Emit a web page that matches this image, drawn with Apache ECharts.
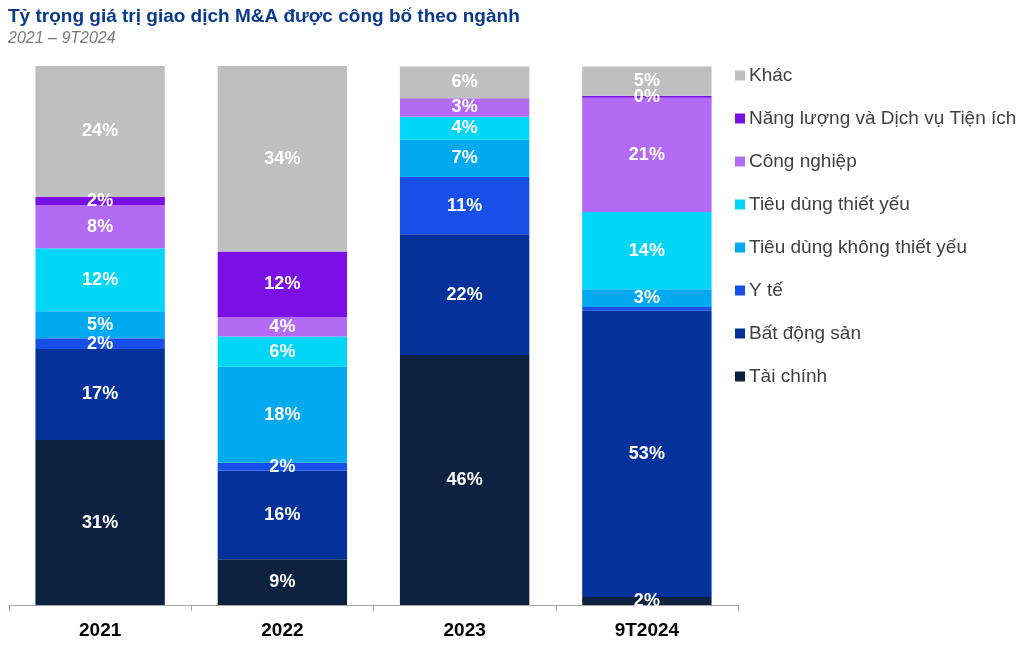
<!DOCTYPE html>
<html>
<head>
<meta charset="utf-8">
<script src="https://cdn.jsdelivr.net/npm/echarts@6/dist/echarts.min.js"></script>
<style>
html,body{margin:0;padding:0;background:#fff;}
#c{width:1024px;height:649px;}
</style>
</head>
<body>
<div id="c"></div>
<script>
const categories = ['2021', '2022', '2023', '9T2024'];
const seriesNames = ['Tài chính', 'Bất động sản', 'Y tế', 'Tiêu dùng không thiết yếu', 'Tiêu dùng thiết yếu', 'Công nghiệp', 'Năng lượng và Dịch vụ Tiện ích', 'Khác'];
const taiChinh   = [30.6, 8.5, 46.4, 1.5];
const batDongSan = [16.9, 16.4, 22.4, 53.1];
const yTe        = [2.0, 1.5, 10.6, 0.7];
const tdKhongTY  = [5.0, 17.8, 6.9, 3.3];
const tdThietYeu = [11.7, 5.6, 4.3, 14.3];
const congNghiep = [8.0, 3.6, 3.4, 21.2];
const nangLuong  = [1.5, 12.2, 0, 0.4];
const khac       = [24.3, 34.4, 5.9, 5.4];
const values = [taiChinh, batDongSan, yTe, tdKhongTY, tdThietYeu, congNghiep, nangLuong, khac];
const colors = ['#0d2240', '#05329a', '#1650e8', '#00a9f0', '#00d7f7', '#b36bf5', '#7a0fe6', '#bfbfbf'];
// labels not shown in the reference: [series index, category index]
const hiddenLabels = [[2, 3], [6, 2]];

const FONT = 'Liberation Sans, Arial, sans-serif';
const chart = echarts.init(document.getElementById('c'), null, {renderer: 'canvas'});
const series = seriesNames.map((name, si) => ({
  name: name,
  type: 'bar',
  stack: 'total',
  barCategoryGap: '29%',
  itemStyle: {color: colors[si]},
  label: {
    show: true,
    position: 'inside',
    color: '#fff',
    fontFamily: FONT,
    fontWeight: 'bold',
    fontSize: 18,
    formatter: p => {
      if (hiddenLabels.some(h => h[0] === si && h[1] === p.dataIndex)) return '';
      return Math.round(p.value) + '%';
    }
  },
  data: values[si]
}));

chart.setOption({
  animation: false,
  title: [{
    text: 'Tỷ trọng giá trị giao dịch M&A được công bố theo ngành',
    left: 3, top: 2,
    textStyle: {color: '#0a3a8c', fontFamily: FONT, fontWeight: 'bold', fontSize: 19}
  }, {
    text: '2021 – 9T2024',
    left: 3, top: 26,
    textStyle: {color: '#7a7a7a', fontFamily: FONT, fontStyle: 'italic', fontWeight: 'normal', fontSize: 16}
  }],
  legend: {
    orient: 'vertical',
    left: 730, top: 61,
    itemWidth: 10, itemHeight: 10,
    itemGap: 24,
    icon: 'rect',
    data: seriesNames.slice().reverse(),
    textStyle: {color: '#404040', fontFamily: FONT, fontSize: 19, lineHeight: 19, padding: [0, 0, 0, -1]}
  },
  grid: {left: 9, right: 286, top: 66, bottom: 44},
  xAxis: {
    type: 'category',
    data: categories,
    axisLine: {lineStyle: {color: '#a6a6a6', width: 1}},
    axisTick: {show: true, length: 6, lineStyle: {color: '#a6a6a6'}},
    axisLabel: {color: '#000', fontFamily: FONT, fontWeight: 'bold', fontSize: 19, margin: 16}
  },
  yAxis: {type: 'value', min: 0, max: 100, show: false, splitLine: {show: false}},
  series: series
});
</script>
</body>
</html>
